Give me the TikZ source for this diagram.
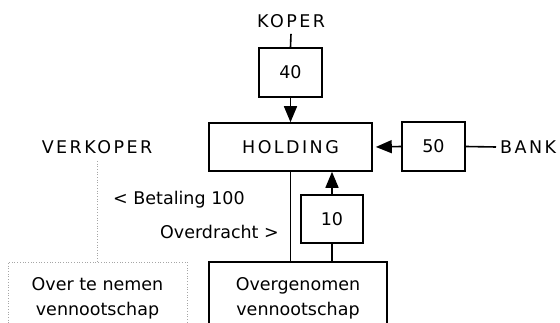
\documentclass[tikz,border=0pt]{standalone}
\usepackage{fontspec}
\setmainfont{DejaVu Sans}
\newfontfamily\capsfont[LetterSpace=14]{DejaVu Sans}
\usetikzlibrary{arrows.meta}
\tikzset{
  every node/.style={font=\fontsize{17.5}{25}\selectfont},
  boxnode/.style={draw, line width=1.6pt, inner sep=0pt, align=center},
  capslabel/.style={font=\fontsize{17.5}{25}\selectfont\capsfont, inner sep=2pt},
  conn/.style={line width=1.6pt},
  arr/.style={line width=1.6pt, -{Triangle[width=13pt,length=16pt]}},
  dotline/.style={draw=gray!70, line width=0.7pt, dotted},
}
\begin{document}
\begin{tikzpicture}[x=1pt,y=-1pt]
\useasboundingbox (0,0) rectangle (560,323);
\clip (0,0) rectangle (560,323);
\node[capslabel] (koper) at (291,21) {KOPER};
\node[boxnode, minimum width=63pt, minimum height=49pt] (b40) at (290.5,72.5) {40};
\node[boxnode, minimum width=163pt, minimum height=48pt, font=\fontsize{17.5}{25}\selectfont\capsfont] (holding) at (290.5,147) {HOLDING};
\node[boxnode, minimum width=63pt, minimum height=49pt] (b50) at (433.5,146.5) {50};
\node[capslabel, anchor=west] (bank) at (498,147) {BANK};
\node[boxnode, minimum width=62pt, minimum height=48pt] (b10) at (332,219) {10};
\node[boxnode, minimum width=178pt, minimum height=73pt] (og) at (298,298.5) {Overgenomen\\vennootschap};
\node[capslabel] (verkoper) at (97,147) {VERKOPER};
\node[dotline, inner sep=0pt, align=center, minimum width=179pt, minimum height=73pt] (otn) at (97.5,298.5) {Over te nemen\\vennootschap};
\node[anchor=west, inner sep=0pt] (betaling) at (113,200) {\textless{} Betaling 100};
\node[anchor=east, inner sep=0pt] (overdracht) at (279,232) {Overdracht \textgreater};
\draw[conn] ([yshift=-4pt]koper.south) -- (b40.north);
\draw[arr] (b40.south) -- (holding.north);
\draw[arr] (b50.west) -- ([xshift=3pt]holding.east);
\draw[conn] (b50.east) -- ([xshift=-2pt]bank.west);
\draw[conn] (holding.south) -- (holding.south |- og.north);
\draw[arr] (b10.north) -- (b10.north |- holding.south);
\draw[conn] (b10.south) -- (b10.south |- og.north);
\draw[dotline] ([yshift=-5pt]verkoper.south) -- (verkoper.south |- otn.north);
\end{tikzpicture}
\end{document}
